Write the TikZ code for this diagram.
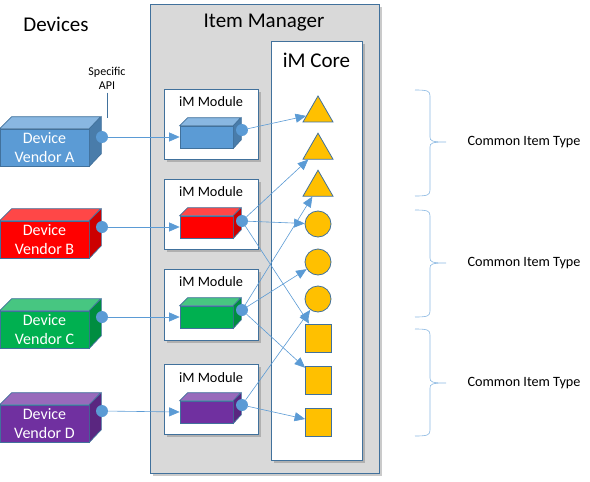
\documentclass[tikz,border=0pt]{standalone}
\usepackage{fontspec}
\setmainfont{Carlito}
\usetikzlibrary{arrows.meta, shapes.geometric, shadows}

\definecolor{edgeblue}{HTML}{41719C}
\definecolor{linkblue}{HTML}{5B9BD5}
\definecolor{mgrgray}{HTML}{D9D9D9}
\definecolor{itemgold}{HTML}{FFC000}
\definecolor{vendA}{HTML}{5B9BD5}
\definecolor{vendB}{HTML}{FF0000}
\definecolor{vendC}{HTML}{00B050}
\definecolor{vendD}{HTML}{7030A0}

\tikzset{
  frame/.style={draw=edgeblue, line width=0.8pt, inner sep=0pt},
  shade/.style={drop shadow={shadow xshift=2.5pt, shadow yshift=-2.5pt, opacity=0.35, fill=black!60}},
  devfront/.style={draw=edgeblue, line width=0.7pt, minimum width=89pt, minimum height=37pt, inner sep=0pt, align=center, text=white, font=\fontsize{16}{19}\selectfont},
  cubefront/.style={draw=edgeblue, line width=0.7pt, minimum width=53pt, minimum height=22pt, inner sep=0pt},
  topface/.style={draw=edgeblue, line width=0.7pt, fill=#1!72!white},
  sideface/.style={draw=edgeblue, line width=0.7pt, fill=#1!80!black},
  port/.style={circle, fill=linkblue, minimum size=12pt, inner sep=0pt},
  link/.style={draw=linkblue, line width=0.6pt, -{Triangle[length=10.5pt,width=9pt]}},
  item/.style={fill=itemgold, draw=edgeblue, line width=0.8pt, inner sep=0pt},
  brace/.style={draw=linkblue!70, line width=0.6pt},
  big/.style={font=\fontsize{21}{25}\selectfont},
  modlabel/.style={font=\fontsize{14.3}{17}\selectfont},
  typelabel/.style={anchor=west, font=\fontsize{14.2}{17}\selectfont},
}

\begin{document}
\begin{tikzpicture}[x=1pt, y=-1pt]
\useasboundingbox (0,0) rectangle (590,482);

% manager and core
\node[frame, fill=mgrgray, shade, minimum width=229pt, minimum height=469pt] (mgr) at (264.5,238.5) {};
\node[big] (mgrtitle) at (264,23) {Item Manager};
\node[frame, fill=white, shade, minimum width=91pt, minimum height=419pt] (core) at (316.5,250.5) {};
\node[big] (coretitle) at (316.5,60) {iM Core};
\node[big] (devtitle) at (56,24) {Devices};

% devices
\node[devfront, fill=vendA] (devA) at (44.5,147.5) {Device\\Vendor A};
\draw[topface=vendA] (devA.north west) -- ++(12,-12) -- ++(89,0) -- (devA.north east) -- cycle;
\draw[sideface=vendA] (devA.north east) -- ++(12,-12) -- ++(0,37) -- (devA.south east) -- cycle;
\node[devfront, fill=vendB] (devB) at (44.5,239.5) {Device\\Vendor B};
\draw[topface=vendB] (devB.north west) -- ++(12,-12) -- ++(89,0) -- (devB.north east) -- cycle;
\draw[sideface=vendB] (devB.north east) -- ++(12,-12) -- ++(0,37) -- (devB.south east) -- cycle;
\node[devfront, fill=vendC] (devC) at (44.5,329.5) {Device\\Vendor C};
\draw[topface=vendC] (devC.north west) -- ++(12,-12) -- ++(89,0) -- (devC.north east) -- cycle;
\draw[sideface=vendC] (devC.north east) -- ++(12,-12) -- ++(0,37) -- (devC.south east) -- cycle;
\node[devfront, fill=vendD] (devD) at (44.5,423.5) {Device\\Vendor D};
\draw[topface=vendD] (devD.north west) -- ++(12,-12) -- ++(89,0) -- (devD.north east) -- cycle;
\draw[sideface=vendD] (devD.north east) -- ++(12,-12) -- ++(0,37) -- (devD.south east) -- cycle;
\node[port] (outA) at (102,137) {};
\node[port] (outB) at (102,227) {};
\node[port] (outC) at (102,317) {};
\node[port] (outD) at (102,411) {};

\node[font=\fontsize{12}{14}\selectfont, align=center] (api) at (107,78) {Specific\\API};
\coordinate (apiend) at (107,118);
\draw[edgeblue, line width=0.8pt] (api) -- (apiend);

% modules
\node[frame, fill=white, shade, minimum width=94pt, minimum height=70pt] (modA) at (211,124) {};
\node[frame, fill=white, shade, minimum width=94pt, minimum height=70pt] (modB) at (211,214) {};
\node[frame, fill=white, shade, minimum width=94pt, minimum height=71pt] (modC) at (211,304.5) {};
\node[frame, fill=white, shade, minimum width=94pt, minimum height=70pt] (modD) at (211,399) {};
\node[modlabel] (labA) at (211,102) {iM Module};
\node[modlabel] (labB) at (211,192) {iM Module};
\node[modlabel] (labC) at (211,282) {iM Module};
\node[modlabel] (labD) at (211,378) {iM Module};

\node[cubefront, fill=vendA] (cubeA) at (206.5,137) {};
\draw[topface=vendA] (cubeA.north west) -- ++(8,-8) -- ++(53,0) -- (cubeA.north east) -- cycle;
\draw[sideface=vendA] (cubeA.north east) -- ++(8,-8) -- ++(0,22) -- (cubeA.south east) -- cycle;
\node[cubefront, fill=vendB] (cubeB) at (206.5,227) {};
\draw[topface=vendB] (cubeB.north west) -- ++(8,-8) -- ++(53,0) -- (cubeB.north east) -- cycle;
\draw[sideface=vendB] (cubeB.north east) -- ++(8,-8) -- ++(0,22) -- (cubeB.south east) -- cycle;
\node[cubefront, fill=vendC] (cubeC) at (206.5,317) {};
\draw[topface=vendC] (cubeC.north west) -- ++(8,-8) -- ++(53,0) -- (cubeC.north east) -- cycle;
\draw[sideface=vendC] (cubeC.north east) -- ++(8,-8) -- ++(0,22) -- (cubeC.south east) -- cycle;
\node[cubefront, fill=vendD] (cubeD) at (206.5,412) {};
\draw[topface=vendD] (cubeD.north west) -- ++(8,-8) -- ++(53,0) -- (cubeD.north east) -- cycle;
\draw[sideface=vendD] (cubeD.north east) -- ++(8,-8) -- ++(0,22) -- (cubeD.south east) -- cycle;
\node[port] (portA) at (242,130) {};
\node[port] (portB) at (242,221) {};
\node[port] (portC) at (242,310) {};
\node[port] (portD) at (242,405) {};

% common items
\node[item, regular polygon, regular polygon sides=3, minimum size=34.6pt] (triA) at (318,113.3) {};
\node[item, regular polygon, regular polygon sides=3, minimum size=34.6pt] (triB) at (318,150.5) {};
\node[item, regular polygon, regular polygon sides=3, minimum size=34.6pt] (triC) at (318,187.5) {};
\node[item, circle, minimum size=26pt] (cirA) at (318,224) {};
\node[item, circle, minimum size=26pt] (cirB) at (318,262) {};
\node[item, circle, minimum size=26pt] (cirC) at (318,299) {};
\node[item, minimum width=26pt, minimum height=28pt] (sqA) at (318.5,338) {};
\node[item, minimum width=26pt, minimum height=28pt] (sqB) at (318.5,380) {};
\node[item, minimum width=26pt, minimum height=28pt] (sqC) at (318.5,422) {};

% links
\draw[link] (outA) -- (cubeA.west);
\draw[link] (outB) -- (cubeB.west);
\draw[link] (outC) -- (cubeC.west);
\draw[link] (outD) -- (cubeD.west);
\draw[link] (portA) -- (triA);
\draw[link] (portB) -- (triB);
\draw[link] (portB) -- (cirA);
\draw[link] (portB) -- (sqA);
\draw[link] (portC) -- (triC);
\draw[link] (portC) -- (cirB);
\draw[link] (portC) -- (sqB);
\draw[link] (portD) -- (cirC);
\draw[link] (portD) -- (sqC);

% braces
\draw[brace] (415,90) .. controls (428,90) and (430,91) .. (430,96) -- (430,137) .. controls (430,141) and (432,142) .. (446,142) .. controls (432,142) and (430,143) .. (430,147) -- (430,190) .. controls (430,195) and (428,196) .. (415,196);
\draw[brace] (415,210) .. controls (428,210) and (430,211) .. (430,216) -- (430,258) .. controls (430,262) and (432,263) .. (446,263) .. controls (432,263) and (430,264) .. (430,268) -- (430,311) .. controls (430,316) and (428,317) .. (415,317);
\draw[brace] (415,329) .. controls (428,329) and (430,330) .. (430,335) -- (430,378) .. controls (430,382) and (432,383) .. (446,383) .. controls (432,383) and (430,384) .. (430,388) -- (430,430) .. controls (430,435) and (428,436) .. (415,436);
\node[typelabel] (typeA) at (464,142) {Common Item Type};
\node[typelabel] (typeB) at (464,263) {Common Item Type};
\node[typelabel] (typeC) at (464,383) {Common Item Type};
\end{tikzpicture}
\end{document}
